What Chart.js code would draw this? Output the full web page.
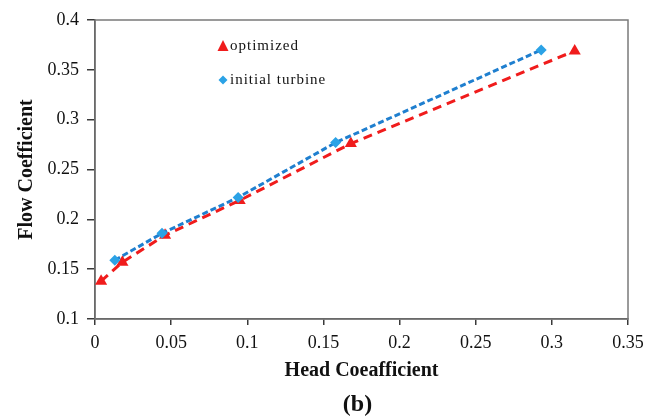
<!DOCTYPE html>
<html>
<head>
<meta charset="utf-8">
<script src="https://cdn.jsdelivr.net/npm/chart.js@4.4.1/dist/chart.umd.min.js"></script>
<style>
  html, body { margin: 0; padding: 0; background: #fff; }
  #wrap { width: 657px; height: 418px; }
</style>
</head>
<body>
<div id="wrap"><canvas id="flowChart" width="657" height="418"></canvas></div>
<script>
// --- datos de las curvas ---
const optimizedHead = [0.004, 0.018, 0.046, 0.095, 0.168, 0.315];
const optimizedFlow = [0.138, 0.157, 0.184, 0.219, 0.276, 0.369];
const initialHead = [0.013, 0.044, 0.094, 0.158, 0.293];
const initialFlow = [0.159, 0.186, 0.222, 0.277, 0.370];

const seriesNames = ['optimized', 'initial turbine'];
const xTicks = [0, 0.05, 0.1, 0.15, 0.2, 0.25, 0.3, 0.35];
const yTicks = [0.1, 0.15, 0.2, 0.25, 0.3, 0.35, 0.4];

const RED = '#f01c1c';
const BLUE_LINE = '#1f7fcf';
const BLUE_MARK = '#2ba2e6';
const SERIF = "'Liberation Serif', 'Times New Roman', serif";

function toPoints(xs, ys) {
    return xs.map((x, i) => ({ x: x, y: ys[i] }));
}

// Marco gris alrededor del area de trazado
const framePlugin = {
    id: 'frame',
    beforeDatasetsDraw(chart) {
        const { ctx, chartArea: a } = chart;
        ctx.save();
        ctx.strokeStyle = '#7a7a7a';
        ctx.lineWidth = 1.5;
        ctx.strokeRect(a.left, a.top, a.right - a.left, a.bottom - a.top);
        ctx.restore();
    }
};

// Leyenda dentro del grafico + etiqueta (b)
const legendPlugin = {
    id: 'innerLegend',
    afterDraw(chart) {
        const ctx = chart.ctx;
        ctx.save();
        // triangulo
        ctx.fillStyle = RED;
        ctx.beginPath();
        ctx.moveTo(223, 40);
        ctx.lineTo(228.5, 51);
        ctx.lineTo(217.5, 51);
        ctx.closePath();
        ctx.fill();
        // rombo
        ctx.fillStyle = BLUE_MARK;
        ctx.beginPath();
        ctx.moveTo(223, 75.5);
        ctx.lineTo(227.5, 80);
        ctx.lineTo(223, 84.5);
        ctx.lineTo(218.5, 80);
        ctx.closePath();
        ctx.fill();

        ctx.fillStyle = '#111';
        ctx.font = '15px ' + SERIF;
        ctx.letterSpacing = '1px';
        ctx.textBaseline = 'middle';
        ctx.textAlign = 'left';
        ctx.fillText(seriesNames[0], 230, 46);
        ctx.fillText(seriesNames[1], 230, 80);

        ctx.letterSpacing = '0px';
        ctx.font = 'bold 24px ' + SERIF;
        ctx.textAlign = 'center';
        const a = chart.chartArea;
        ctx.fillText('(b)', (a.left + a.right) / 2 - 4, 405);
        ctx.restore();
    }
};

function initChart() {
    const ctx = document.getElementById('flowChart').getContext('2d');
    new Chart(ctx, {
        type: 'scatter',
        data: {
            datasets: [
                {
                    label: seriesNames[1],
                    data: toPoints(initialHead, initialFlow),
                    showLine: true,
                    borderColor: BLUE_LINE,
                    borderWidth: 3,
                    borderDash: [6, 3],
                    pointStyle: 'rectRot',
                    pointRadius: 5.5,
                    pointBackgroundColor: BLUE_MARK,
                    pointBorderColor: BLUE_MARK,
                    pointBorderWidth: 0,
                    order: 0
                },
                {
                    label: seriesNames[0],
                    data: toPoints(optimizedHead, optimizedFlow),
                    showLine: true,
                    borderColor: RED,
                    borderWidth: 3,
                    borderDash: [9, 6],
                    pointStyle: 'triangle',
                    pointRadius: 7,
                    pointBackgroundColor: RED,
                    pointBorderColor: RED,
                    pointBorderWidth: 0,
                    order: 1
                }
            ]
        },
        options: {
            responsive: false,
            animation: false,
            layout: { padding: { top: 20, right: 29, left: 0, bottom: 0 } },
            plugins: {
                legend: { display: false },
                tooltip: { enabled: false }
            },
            scales: {
                x: {
                    type: 'linear',
                    min: 0,
                    max: 0.35,
                    afterFit: (s) => { s.height = 99; },
                    afterBuildTicks: (s) => { s.ticks = xTicks.map(v => ({ value: v })); },
                    border: { color: '#3a3a3a', width: 1.5 },
                    grid: { drawOnChartArea: false, drawTicks: true, tickLength: 6, color: '#3a3a3a', lineWidth: 1.5 },
                    ticks: {
                        padding: 7,
                        color: '#111',
                        font: { family: SERIF, size: 18 },
                        callback: (v) => String(+v.toFixed(2))
                    },
                    title: {
                        display: true,
                        text: 'Head Coeafficient',
                        color: '#111',
                        font: { family: SERIF, size: 20, weight: 'bold' },
                        padding: { top: 0, bottom: 35 }
                    }
                },
                y: {
                    type: 'linear',
                    min: 0.1,
                    max: 0.4,
                    afterFit: (s) => { s.width = 95; },
                    afterBuildTicks: (s) => { s.ticks = yTicks.map(v => ({ value: v })); },
                    border: { color: '#3a3a3a', width: 1.5 },
                    grid: { drawOnChartArea: false, drawTicks: true, tickLength: 8, color: '#3a3a3a', lineWidth: 1.5 },
                    ticks: {
                        padding: 8,
                        color: '#111',
                        font: { family: SERIF, size: 18 },
                        callback: (v) => String(+v.toFixed(2))
                    },
                    title: {
                        display: true,
                        text: 'Flow Coefficient',
                        color: '#111',
                        font: { family: SERIF, size: 20, weight: 'bold' },
                        padding: { top: 15, bottom: 0 }
                    }
                }
            }
        },
        plugins: [framePlugin, legendPlugin]
    });
}

window.addEventListener('load', initChart);
</script>
</body>
</html>
